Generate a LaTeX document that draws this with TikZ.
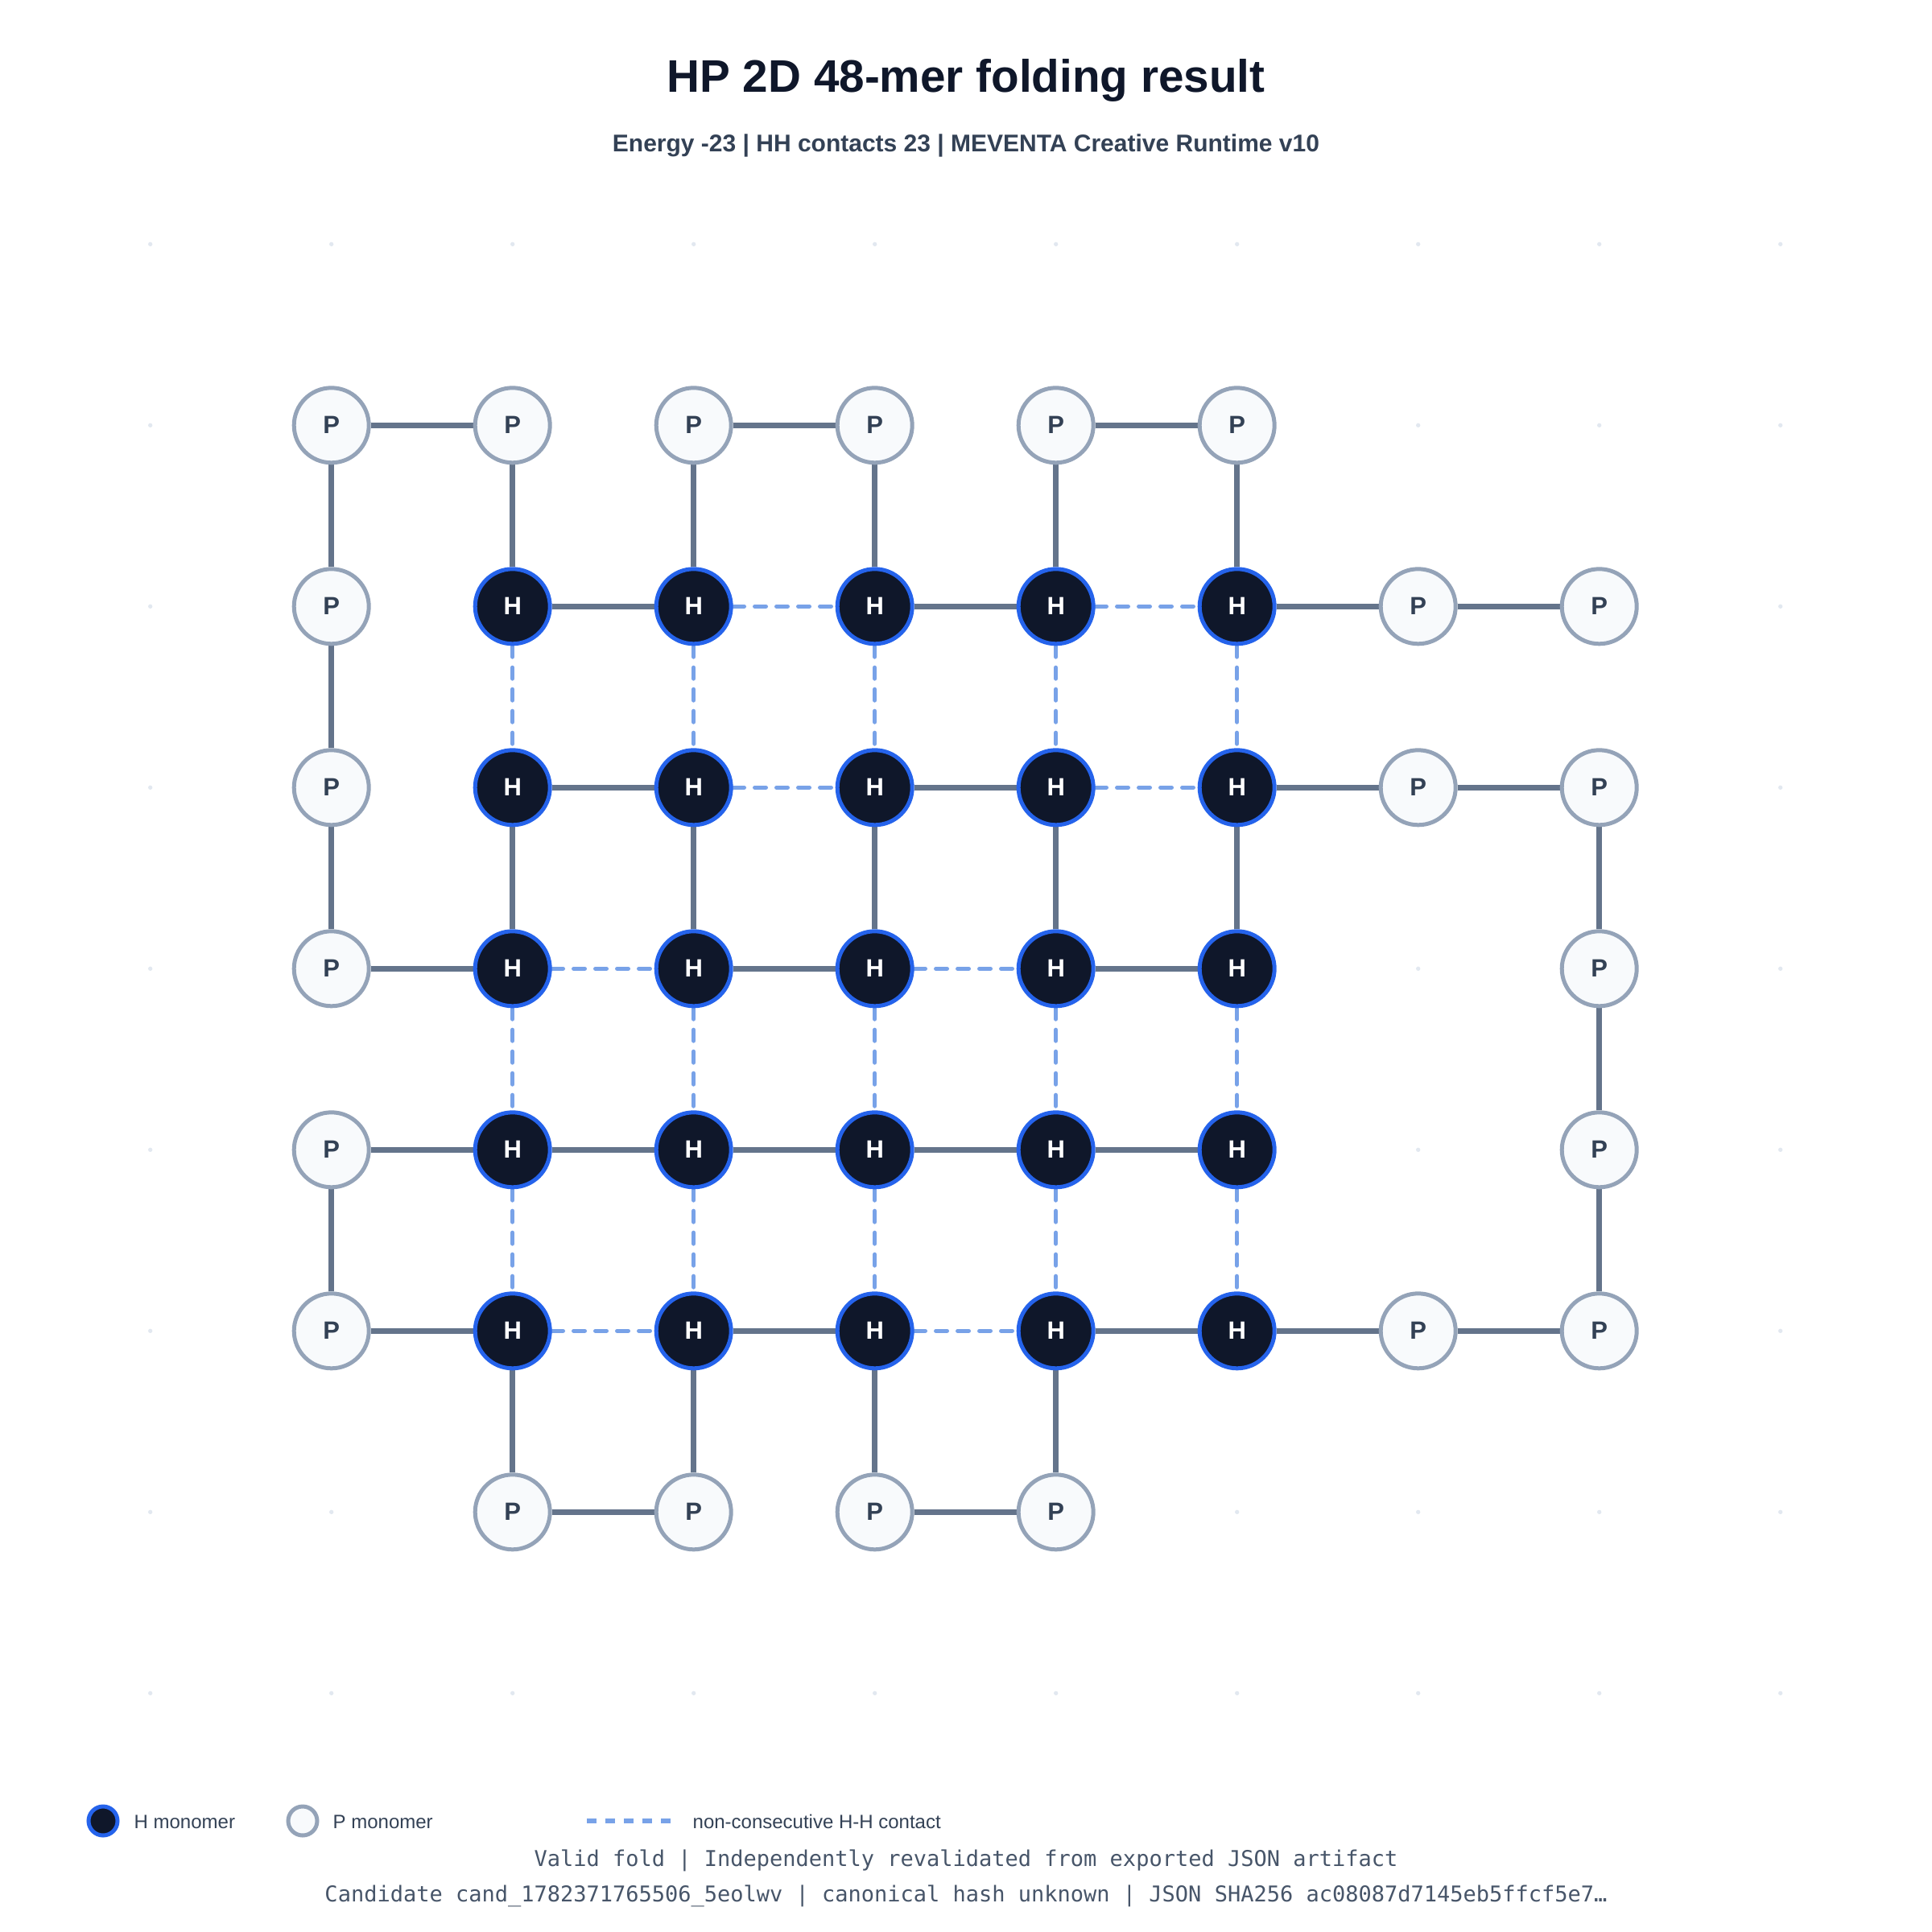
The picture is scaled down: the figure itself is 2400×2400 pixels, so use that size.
\documentclass[tikz,border=0pt]{standalone}
\usepackage{fontspec}
\setmainfont{Liberation Sans}
\newfontfamily\footmono{DejaVu Sans Mono}
\definecolor{bondc}{HTML}{64748B}
\definecolor{pfill}{HTML}{F8FAFC}
\definecolor{pdraw}{HTML}{94A3B8}
\definecolor{ptext}{HTML}{334155}
\definecolor{hfill}{HTML}{0F172A}
\definecolor{hdraw}{HTML}{2563EB}
\definecolor{contactc}{RGB}{120,162,232}
\definecolor{dotc}{HTML}{E2E8F0}
\definecolor{titlec}{HTML}{0F172A}
\definecolor{subc}{HTML}{334155}
\definecolor{footc}{HTML}{475569}
\pgfdeclarelayer{back}
\pgfdeclarelayer{mid}
\pgfsetlayers{back,mid,main}
\tikzset{
  pnode/.style={circle, inner sep=0pt, minimum size=27.9pt, line width=1.5pt, draw=pdraw, fill=pfill, text=ptext, font=\fontsize{9.3}{10}\selectfont\bfseries},
  hnode/.style={circle, inner sep=0pt, minimum size=27.9pt, line width=1.5pt, draw=hdraw, fill=hfill, text=white, font=\fontsize{9.3}{10}\selectfont\bfseries},
  bond/.style={draw=bondc, line width=2pt},
  contact/.style={draw=contactc, line width=1.6pt, line cap=round, dash pattern=on 4.1pt off 4pt},
  legcontact/.style={draw=contactc, line width=1.7pt, dash pattern=on 3.6pt off 3.3pt},
  legh/.style={circle, inner sep=0pt, minimum size=10.8pt, line width=1.5pt, draw=hdraw, fill=hfill},
  legp/.style={circle, inner sep=0pt, minimum size=10.8pt, line width=1.5pt, draw=pdraw, fill=pfill},
  legtext/.style={anchor=base west, inner sep=0pt, text=subc, font=\fontsize{7.2}{8.5}\selectfont},
  foottext/.style={anchor=base, inner sep=0pt, text=footc, font=\footmono\fontsize{8.1}{10}\selectfont},
}
\begin{document}
\begin{tikzpicture}[x=0.3pt,y=-0.3pt]
\useasboundingbox (0,0) rectangle (2400,2400);
\begin{pgfonlayer}{back}
  \fill[white] (0,0) rectangle (2400,2400);
  \foreach \i in {0,...,9} {
    \foreach \j in {0,...,8} {
      \fill[dotc] ({186.7+225*\i},{303.3+225*\j}) circle (0.8pt);
    }
  }
\end{pgfonlayer}
% title
\node[anchor=base, inner sep=0pt, text=titlec, font=\fontsize{17}{20}\selectfont\bfseries] (title) at (1200,114) {HP 2D 48-mer folding result};
\node[anchor=base, inner sep=0pt, text=subc, font=\fontsize{9}{11}\selectfont\bfseries] (subtitle) at (1200,188) {Energy -23 | HH contacts 23 | MEVENTA Creative Runtime v10};
% H nodes
\foreach \c in {2,...,6} {
  \foreach \r in {2,...,6} {
    \node[hnode] (n\c\r) at ({186.7+225*\c},{303.3+225*\r}) {H};
  }
}
% P nodes
\foreach \c/\r in {1/1,2/1,3/1,4/1,5/1,6/1, 1/2,7/2,8/2, 1/3,7/3,8/3, 1/4,8/4, 1/5,8/5, 1/6,7/6,8/6, 2/7,3/7,4/7,5/7} {
  \node[pnode] (n\c\r) at ({186.7+225*\c},{303.3+225*\r}) {P};
}
\begin{pgfonlayer}{mid}
\foreach \a/\b in {n11/n21, n31/n41, n51/n61,
  n11/n12, n21/n22, n31/n32, n41/n42, n51/n52, n61/n62,
  n22/n32, n42/n52, n62/n72, n72/n82,
  n12/n13,
  n23/n33, n43/n53, n63/n73, n73/n83,
  n13/n14, n23/n24, n33/n34, n43/n44, n53/n54, n63/n64, n83/n84,
  n14/n24, n34/n44, n54/n64,
  n84/n85,
  n15/n25, n25/n35, n35/n45, n45/n55, n55/n65,
  n15/n16, n85/n86,
  n16/n26, n36/n46, n56/n66, n66/n76, n76/n86,
  n26/n27, n36/n37, n46/n47, n56/n57,
  n27/n37, n47/n57} {
  \draw[bond] (\a) -- (\b);
}
\foreach \a/\b in {n32/n42, n52/n62,
  n22/n23, n32/n33, n42/n43, n52/n53, n62/n63,
  n33/n43, n53/n63,
  n24/n34, n44/n54,
  n24/n25, n34/n35, n44/n45, n54/n55, n64/n65,
  n25/n26, n35/n36, n45/n46, n55/n56, n65/n66,
  n26/n36, n46/n56} {
  \draw[contact] (\a) -- (\b);
}
\end{pgfonlayer}
% legend
\node[legh] (legH) at (128,2262) {};
\node[legtext] (legHt) at (166,2271) {H monomer};
\node[legp] (legP) at (376,2262) {};
\node[legtext] (legPt) at (413,2271) {P monomer};
\coordinate (legc1) at (729,2262);
\coordinate (legc2) at (834,2262);
\draw[legcontact] (legc1) -- (legc2);
\node[legtext] (legCt) at (860,2271) {non-consecutive H-H contact};
% footer
\node[foottext] (foot1) at (1200,2318) {Valid fold | Independently revalidated from exported JSON artifact};
\node[foottext] (foot2) at (1200,2362) {Candidate cand\_1782371765506\_5eolwv | canonical hash unknown | JSON SHA256 ac08087d7145eb5ffcf5e7…};
\end{tikzpicture}
\end{document}
